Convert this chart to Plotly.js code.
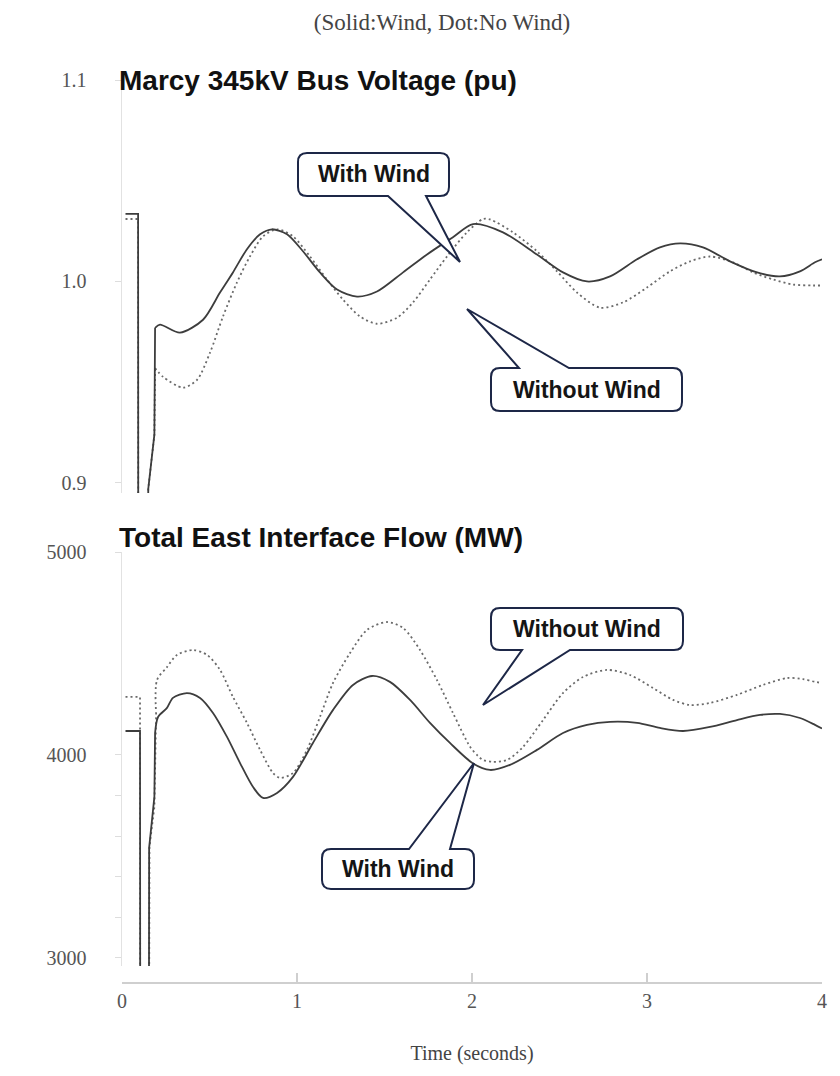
<!DOCTYPE html>
<html>
<head>
<meta charset="utf-8">
<script src="https://cdn.plot.ly/plotly-3.0.1.min.js"></script>
<style>html,body{margin:0;padding:0;background:#fff;}#chart{width:840px;height:1076px;}</style>
</head>
<body>
<div id="chart"></div>
<script>
// ---------- Marcy 345kV bus voltage (pu) ----------
const vWindT = [0.02, 0.092, 0.093, 0.148, 0.15, 0.185, 0.189, 0.217, 0.331, 0.463, 0.56, 0.634, 0.714, 0.789, 0.857, 0.943, 1.034, 1.131, 1.229, 1.343, 1.457, 1.606, 1.743, 1.891, 2.006, 2.177, 2.371, 2.52, 2.657, 2.789, 2.943, 3.074, 3.189, 3.32, 3.474, 3.629, 3.76, 3.874, 3.96, 4.0];
const vWind  = [1.0335, 1.0335, 0.85, 0.85, 0.897, 0.924, 0.977, 0.9786, 0.9746, 0.981, 0.9945, 1.0045, 1.016, 1.0234, 1.0259, 1.0234, 1.015, 1.0045, 0.996, 0.9925, 0.995, 1.0045, 1.0134, 1.022, 1.0285, 1.0244, 1.0134, 1.0045, 1.0, 1.0025, 1.011, 1.0169, 1.0189, 1.0169, 1.01, 1.0045, 1.0025, 1.005, 1.0095, 1.011];

const vNoWindT = [0.02, 0.092, 0.093, 0.148, 0.15, 0.185, 0.189, 0.234, 0.349, 0.429, 0.503, 0.577, 0.657, 0.731, 0.806, 0.886, 0.977, 1.074, 1.171, 1.263, 1.36, 1.457, 1.571, 1.663, 1.76, 1.857, 1.971, 2.063, 2.103, 2.234, 2.371, 2.486, 2.6, 2.731, 2.863, 3.0, 3.131, 3.246, 3.36, 3.491, 3.606, 3.72, 3.834, 3.949, 4.0];
const vNoWind  = [1.031, 1.031, 0.85, 0.85, 0.897, 0.924, 0.957, 0.9527, 0.9473, 0.9512, 0.9647, 0.9826, 0.9995, 1.0124, 1.0224, 1.0259, 1.0224, 1.0124, 1.001, 0.991, 0.9826, 0.979, 0.982, 0.9896, 1.001, 1.0124, 1.0244, 1.031, 1.0308, 1.0244, 1.015, 1.005, 0.9945, 0.987, 0.9896, 0.997, 1.005, 1.01, 1.0124, 1.0095, 1.0045, 1.001, 0.9985, 0.998, 0.998];

// ---------- Total East interface flow (MW) ----------
const fWindT = [0.02, 0.103, 0.104, 0.154, 0.155, 0.185, 0.189, 0.206, 0.257, 0.291, 0.371, 0.446, 0.52, 0.6, 0.674, 0.749, 0.806, 0.886, 0.977, 1.091, 1.206, 1.32, 1.429, 1.531, 1.646, 1.76, 1.874, 2.006, 2.103, 2.217, 2.371, 2.52, 2.657, 2.789, 2.943, 3.074, 3.206, 3.36, 3.514, 3.646, 3.76, 3.874, 3.96, 4.0];
const fWind  = [4118, 4118, 2700, 2700, 3542, 3793, 4108, 4187, 4232, 4281, 4305, 4281, 4207, 4089, 3961, 3842, 3788, 3813, 3892, 4059, 4222, 4345, 4389, 4360, 4271, 4158, 4059, 3958, 3926, 3951, 4025, 4108, 4148, 4163, 4158, 4133, 4118, 4138, 4172, 4197, 4202, 4182, 4148, 4130];

const fNoWindT = [0.02, 0.103, 0.104, 0.155, 0.157, 0.185, 0.195, 0.2, 0.257, 0.314, 0.406, 0.486, 0.56, 0.634, 0.714, 0.789, 0.863, 0.903, 0.977, 1.057, 1.131, 1.206, 1.303, 1.4, 1.514, 1.606, 1.703, 1.8, 1.891, 1.989, 2.034, 2.063, 2.12, 2.2, 2.291, 2.406, 2.52, 2.634, 2.771, 2.903, 3.034, 3.149, 3.246, 3.36, 3.514, 3.663, 3.8, 3.891, 3.96, 4.0];
const fNoWind  = [4286, 4286, 2700, 2700, 3547, 3744, 4200, 4369, 4433, 4493, 4517, 4493, 4419, 4286, 4158, 4025, 3911, 3887, 3911, 4025, 4187, 4355, 4502, 4616, 4655, 4626, 4517, 4369, 4207, 4040, 3995, 3975, 3966, 3975, 4039, 4172, 4305, 4384, 4419, 4394, 4330, 4271, 4246, 4256, 4296, 4345, 4379, 4374, 4360, 4355];

// index where the post-clearing (smooth) response begins in each series
const recoveryStart = {vWind: 6, vNoWind: 6, fWind: 6, fNoWind: 6};

const xTicks = [0, 1, 2, 3, 4];
const vTicks = [0.9, 1.0, 1.1];
const fTicks = [3000, 4000, 5000];
const fMinorTicks = [3200, 3400, 3600, 3800];

// ---------- layout geometry ----------
const M = {l: 122, r: 18, t: 80, b: 93};
const W = 840, H = 1076;
const PW = W - M.l - M.r, PH = H - M.t - M.b;
const bottomPx = H - M.b;
function px(x, y) { return [(x - M.l) / PW, (bottomPx - y) / PH]; }
function f(v) { return v.toFixed(5); }

function callout(x0, y0, x1, y1, side, b1, b2, tx, ty) {
  const r = 9;
  const pts = [];
  const P = (x, y, cmd) => { const p = px(x, y); pts.push(cmd + f(p[0]) + ',' + f(p[1])); };
  const Q = (cx, cy, x, y) => { const c = px(cx, cy), p = px(x, y); pts.push('Q' + f(c[0]) + ',' + f(c[1]) + ' ' + f(p[0]) + ',' + f(p[1])); };
  P(x0 + r, y0, 'M');
  if (side === 'top') { P(b1, y0, 'L'); P(tx, ty, 'L'); P(b2, y0, 'L'); }
  P(x1 - r, y0, 'L');
  Q(x1, y0, x1, y0 + r);
  P(x1, y1 - r, 'L');
  Q(x1, y1, x1 - r, y1);
  if (side === 'bottom') { P(b2, y1, 'L'); P(tx, ty, 'L'); P(b1, y1, 'L'); }
  P(x0 + r, y1, 'L');
  Q(x0, y1, x0, y1 - r);
  P(x0, y0 + r, 'L');
  Q(x0, y0, x0 + r, y0);
  return {
    type: 'path', xref: 'paper', yref: 'paper', path: pts.join(' ') + ' Z',
    line: {color: '#1d2747', width: 2}, fillcolor: '#ffffff', layer: 'above'
  };
}
function calloutText(text, x0, y0, x1, y1) {
  const p = px((x0 + x1) / 2, (y0 + y1) / 2);
  return {
    text: text, xref: 'paper', yref: 'paper', x: p[0], y: p[1],
    xanchor: 'center', yanchor: 'middle', showarrow: false,
    font: {family: 'Liberation Sans, Arial, sans-serif', size: 23, color: '#151515', weight: 'bold'}
  };
}

const boxes = [
  ['With Wind', 298, 153, 449, 196, 'bottom', 388, 426, 460, 262],
  ['Without Wind', 491, 368, 682, 411, 'top', 519, 569, 467, 309],
  ['Without Wind', 491, 608, 683, 650, 'bottom', 522, 570, 483, 705],
  ['With Wind', 322, 849, 474, 889, 'top', 409, 450, 474, 763]
];

const shapes = boxes.map(b => callout(b[1], b[2], b[3], b[4], b[5], b[6], b[7], b[8], b[9]));
const annotations = boxes.map(b => calloutText(b[0], b[1], b[2], b[3], b[4]));

const titleFont = {family: 'Liberation Sans, Arial, sans-serif', size: 28, color: '#111', weight: 'bold'};
const t1 = px(117, 80), t2 = px(117, 537);
annotations.push({text: 'Marcy 345kV Bus Voltage (pu)', xref: 'paper', yref: 'paper', x: t1[0], y: t1[1], xanchor: 'left', yanchor: 'middle', showarrow: false, font: titleFont});
annotations.push({text: 'Total East Interface Flow (MW)', xref: 'paper', yref: 'paper', x: t2[0], y: t2[1], xanchor: 'left', yanchor: 'middle', showarrow: false, font: titleFont});

const serif = {family: 'Liberation Serif, Times New Roman, serif', size: 20, color: '#555'};
const solidLine = {color: '#3d3d3d', width: 1.8};
const dotLine = {color: '#6a6a6a', width: 1.8, dash: '2px,3px'};

function pieces(t, v, k, yaxis, line) {
  return [
    {x: t.slice(0, k + 1), y: v.slice(0, k + 1), xaxis: 'x', yaxis: yaxis, mode: 'lines', line: Object.assign({}, line, {shape: 'linear'})},
    {x: t.slice(k), y: v.slice(k), xaxis: 'x', yaxis: yaxis, mode: 'lines', line: Object.assign({}, line, {shape: 'spline', smoothing: 0.8})}
  ];
}

const traces = [].concat(
  pieces(vNoWindT, vNoWind, recoveryStart.vNoWind, 'y', dotLine),
  pieces(vWindT, vWind, recoveryStart.vWind, 'y', solidLine),
  pieces(fNoWindT, fNoWind, recoveryStart.fNoWind, 'y2', dotLine),
  pieces(fWindT, fWind, recoveryStart.fWind, 'y2', solidLine)
);

const topDom = [(bottomPx - 493) / PH, 1];
const botDom = [(bottomPx - 966) / PH, (bottomPx - 552) / PH];

const layout = {
  width: W, height: H,
  margin: M,
  paper_bgcolor: '#ffffff', plot_bgcolor: '#ffffff',
  showlegend: false,
  title: {
    text: '(Solid:Wind, Dot:No Wind)', xref: 'paper', yref: 'container',
    x: (442 - M.l) / PW, xanchor: 'center', y: 1 - 22 / H, yanchor: 'middle',
    font: {family: 'Liberation Serif, Times New Roman, serif', size: 23, color: '#444'}
  },
  xaxis: {
    anchor: 'free', position: 0, range: [0, 4], tickvals: xTicks, ticktext: xTicks.map(String),
    showgrid: false, zeroline: false, showline: true, linecolor: '#cfcfcf', linewidth: 2,
    ticks: 'inside', ticklen: 9, tickcolor: '#cfcfcf', tickwidth: 1.5,
    tickfont: serif, ticklabelstandoff: 0,
    title: {text: 'Time (seconds)', font: {family: 'Liberation Serif, Times New Roman, serif', size: 20, color: '#444'}, standoff: 34}
  },
  yaxis: {
    domain: topDom, range: [0.895, 1.1], tickvals: vTicks, ticktext: ['0.9', '1.0', '1.1'],
    showgrid: false, zeroline: false, showline: true, linecolor: '#e2e2e2', linewidth: 1.5,
    ticks: 'outside', ticklen: 6, tickcolor: '#dddddd', tickfont: serif, ticklabelstandoff: 24
  },
  yaxis2: {
    domain: botDom, range: [2960, 5000], tickvals: fTicks, ticktext: fTicks.map(String),
    showgrid: false, zeroline: false, showline: true, linecolor: '#e2e2e2', linewidth: 1.5,
    ticks: 'outside', ticklen: 6, tickcolor: '#dddddd', tickfont: serif, ticklabelstandoff: 24,
    minor: {tickvals: fMinorTicks, ticks: 'outside', ticklen: 6, tickcolor: '#dddddd'}
  },
  shapes: shapes,
  annotations: annotations
};

Plotly.newPlot('chart', traces, layout, {staticPlot: true, displayModeBar: false});
</script>
</body>
</html>
